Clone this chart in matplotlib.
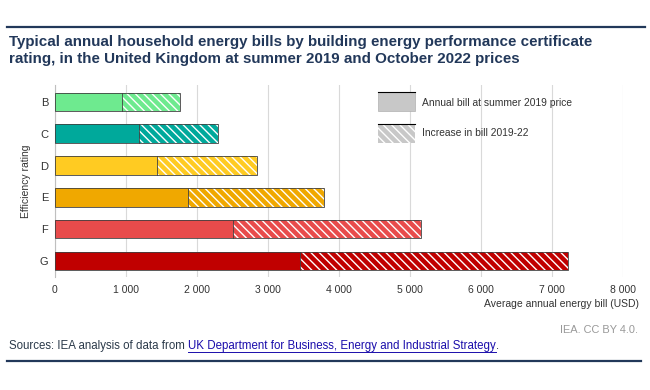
import matplotlib
matplotlib.use("Agg")
import matplotlib.pyplot as plt
from matplotlib.patches import Rectangle
from matplotlib.lines import Line2D

plt.rcParams['font.family'] = ['Liberation Sans', 'DejaVu Sans']
plt.rcParams['hatch.linewidth'] = 1.0

categories = ["B", "C", "D", "E", "F", "G"]
bill_2019 = [940, 1190, 1440, 1880, 2500, 3450]
bill_2022 = [1760, 2300, 2850, 3790, 5160, 7220]
colors = ["#6EEA8F", "#00A99B", "#FFCB22", "#F0A800", "#E84B4B", "#C00000"]
xticks = [0, 1000, 2000, 3000, 4000, 5000, 6000, 7000, 8000]
xtick_labels = ["0", "1 000", "2 000", "3 000", "4 000", "5 000", "6 000", "7 000", "8 000"]
legend_labels = ["Annual bill at summer 2019 price", "Increase in bill 2019-22"]

W, H = 650, 390
fig = plt.figure(figsize=(6.5, 3.9), dpi=100)

def fx(px):
    return px / W

def fy(py):
    return 1 - py / H

ax = fig.add_axes([fx(55), fy(277), fx(623) - fx(55), fy(85) - fy(277)])

ypos = list(range(len(categories)))
increase = [t - b for t, b in zip(bill_2022, bill_2019)]
bh = 0.58
edge = '#404040'
ax.barh(ypos, bill_2019, height=bh, color=colors, edgecolor='none', zorder=3)
ax.barh(ypos, increase, left=bill_2019, height=bh, color=colors, edgecolor='white',
        linewidth=0, hatch='\\\\\\\\', zorder=3)
ax.barh(ypos, bill_2022, height=bh, fill=False, edgecolor=edge, linewidth=0.6, zorder=4)
for y, b in zip(ypos, bill_2019):
    ax.plot([b, b], [y - bh / 2, y + bh / 2], color=edge, lw=0.6, zorder=4)

ax.set_xlim(0, 8000)
ax.set_ylim(5.5, -0.53)
ax.set_xticks(xticks)
ax.set_xticklabels(xtick_labels)
ax.set_yticks(ypos)
ax.set_yticklabels(categories)
ax.tick_params(axis='x', length=0, pad=6, labelsize=7.5, labelcolor='#333333')
ax.tick_params(axis='y', length=0, pad=5, labelsize=8, labelcolor='#333333')
ax.grid(axis='x', color='#d9d9d9', linewidth=0.8, zorder=0)
for s in ['top', 'right', 'bottom']:
    ax.spines[s].set_visible(False)
ax.spines['left'].set_color('#bfbfbf')
ax.spines['left'].set_linewidth(0.8)
ax.set_ylabel("Efficiency rating", fontsize=7.5, color='#333333', labelpad=6)

# Title and decorations
navy = '#22385a'
fig.add_artist(Line2D([fx(7), fx(645)], [fy(27), fy(27)], color=navy, lw=1.6))
fig.add_artist(Line2D([fx(7), fx(641)], [fy(361), fy(361)], color=navy, lw=1.6))
fig.text(fx(9), fy(50.5), "Typical annual household energy bills by building energy performance certificate\n"
         "rating, in the United Kingdom at summer 2019 and October 2022 prices",
         fontsize=10.9, fontweight='bold', color=navy, ha='left', va='center', linespacing=1.25)

fig.text(fx(639), fy(304), "Average annual energy bill (USD)", fontsize=7.5, color='#333333',
         ha='right', va='center')
fig.text(fx(638), fy(330), "IEA. CC BY 4.0.", fontsize=7.9, color='#999999', ha='right', va='center')

fs_src = 8.3
t1 = fig.text(fx(9), fy(346), "Sources: IEA analysis of data from ", fontsize=fs_src,
              color='#2b3a4a', ha='left', va='center')
fig.canvas.draw()
r = fig.canvas.get_renderer()
bb = t1.get_window_extent(r)
x2 = bb.x1 / W
t2 = fig.text(x2, fy(346), "UK Department for Business, Energy and Industrial Strategy", fontsize=fs_src,
              color='#1a0dab', ha='left', va='center')
bb2 = t2.get_window_extent(r)
fig.add_artist(Line2D([bb2.x0 / W, bb2.x1 / W], [fy(352), fy(352)], color='#1a0dab', lw=0.7))
fig.text(bb2.x1 / W, fy(346), ".", fontsize=fs_src, color='#2b3a4a', ha='left', va='center')

# Legend
fig.add_artist(Rectangle((fx(378), fy(111)), fx(415) - fx(378), fy(92) - fy(111),
                         facecolor='#c8c8c8', edgecolor='#b0b0b0', lw=0.5))
fig.add_artist(Line2D([fx(378), fx(415)], [fy(92), fy(92)], color='black', lw=0.8))
fig.add_artist(Rectangle((fx(378), fy(143)), fx(415) - fx(378), fy(124) - fy(143),
                         facecolor='#c8c8c8', edgecolor='white', lw=0, hatch='\\\\\\\\'))
fig.add_artist(Line2D([fx(378), fx(415)], [fy(124), fy(124)], color='black', lw=0.8))
fig.text(fx(422), fy(103), legend_labels[0], fontsize=7.4, color='#333333', ha='left', va='center')
fig.text(fx(422), fy(133), legend_labels[1], fontsize=7.4, color='#333333', ha='left', va='center')

fig.savefig("out.png", dpi=100)
